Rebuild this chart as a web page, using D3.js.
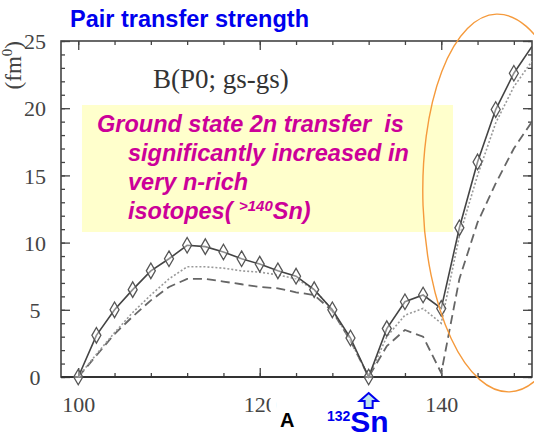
<!DOCTYPE html>
<html>
<head>
<meta charset="utf-8">
<script src="https://cdn.jsdelivr.net/npm/d3@7"></script>
<style>
  body { margin: 0; background: #fff; }
  svg { display: block; }
</style>
</head>
<body>
<div class="canvas"></div>
<script>
/**
 * Data
 */
const massNumbers = d3.range(100, 151, 2) // A = 100 ... 150
const solidValues  = [0, 3.1, 5.0, 6.5, 7.9, 8.8, 9.8, 9.7, 9.3, 8.8, 8.4, 7.9, 7.5, 6.5, 5.0, 2.9, 0, 3.6, 5.6, 6.1, 5.1, 11.1, 16.0, 19.9, 22.6, 24.6]
const dottedValues = [0, 1.7, 3.3, 4.8, 6.1, 7.3, 8.2, 8.2, 8.1, 7.9, 7.8, 7.6, 7.3, 6.5, 5.0, 2.7, 0, 3.0, 4.6, 5.1, 4.0, 10.5, 15.0, 18.9, 21.6, 23.5]
const dashedValues = [0, 1.6, 3.2, 4.5, 5.7, 6.7, 7.3, 7.3, 7.1, 6.9, 6.7, 6.6, 6.3, 6.1, 4.9, 2.7, 0, 2.3, 3.5, 3.0, 0.3, 7.3, 11.5, 14.4, 17.0, 19.0]
const xMajorTicks = [100, 120, 140]
const xMinorTicks = d3.range(100, 150, 4)
const yMajorTicks = [0, 5, 10, 15, 20, 25]
const yMinorTicks = d3.range(0, 26, 1)
const noteLines = ["Ground state 2n transfer  is", "significantly increased in", "very n-rich"]

/**
 * Dimension setup
 */
const dims = { width: 534, height: 437 }
const plot = { left: 61, right: 532, top: 41, bottom: 377 }

const svg = d3.select(".canvas")
    .append("svg")
    .attr("width", dims.width)
    .attr("height", dims.height)

const x = d3.scaleLinear().domain([98.1, 150]).range([plot.left, plot.right])
const y = d3.scaleLinear().domain([0, 25]).range([plot.bottom, plot.top])

const serif = "'Liberation Serif', 'DejaVu Serif', serif"
const sans = "'Liberation Sans', Arial, sans-serif"
const axisColor = "#444"

/**
 * Axes (ticks point inward on all four sides)
 */
const styleAxis = (g) => {
    g.select(".domain").remove()
    g.selectAll("line").attr("stroke", axisColor).attr("stroke-width", 1.3)
}

svg.append("g")
    .attr("transform", `translate(0,${plot.bottom})`)
    .call(d3.axisBottom(x).tickValues(xMinorTicks).tickSize(-4).tickFormat(""))
    .call(styleAxis)

svg.append("g")
    .attr("transform", `translate(0,${plot.bottom})`)
    .call(d3.axisBottom(x).tickValues(xMajorTicks).tickSize(-9))
    .call(styleAxis)
    .call(g => g.selectAll("text")
        .attr("font-family", serif).attr("font-size", 22).attr("fill", axisColor)
        .attr("y", 19))

svg.append("g")
    .attr("transform", `translate(0,${plot.top})`)
    .call(d3.axisTop(x).tickValues(xMinorTicks).tickSize(-4).tickFormat(""))
    .call(styleAxis)

svg.append("g")
    .attr("transform", `translate(0,${plot.top})`)
    .call(d3.axisTop(x).tickValues(xMajorTicks).tickSize(-9).tickFormat(""))
    .call(styleAxis)

svg.append("g")
    .attr("transform", `translate(${plot.left},0)`)
    .call(d3.axisLeft(y).tickValues(yMinorTicks).tickSize(-4).tickFormat(""))
    .call(styleAxis)

svg.append("g")
    .attr("transform", `translate(${plot.left},0)`)
    .call(d3.axisLeft(y).tickValues(yMajorTicks).tickSize(-9))
    .call(styleAxis)
    .call(g => g.selectAll("text")
        .attr("font-family", serif).attr("font-size", 22).attr("fill", axisColor)
        .attr("text-anchor", "middle").attr("x", -26).attr("dy", "0.35em"))

svg.append("g")
    .attr("transform", `translate(${plot.right},0)`)
    .call(d3.axisRight(y).tickValues(yMinorTicks).tickSize(-4).tickFormat(""))
    .call(styleAxis)

svg.append("g")
    .attr("transform", `translate(${plot.right},0)`)
    .call(d3.axisRight(y).tickValues(yMajorTicks).tickSize(-9).tickFormat(""))
    .call(styleAxis)

// frame
svg.append("rect")
    .attr("x", plot.left).attr("y", plot.top)
    .attr("width", plot.right - plot.left).attr("height", plot.bottom - plot.top)
    .attr("fill", "none").attr("stroke", axisColor).attr("stroke-width", 1.6)

svg.append("line")
    .attr("x1", plot.left).attr("x2", plot.right)
    .attr("y1", plot.bottom).attr("y2", plot.bottom)
    .attr("stroke", "#333").attr("stroke-width", 2.2)

// the right side of the "0" in 120 is hidden in the source picture
svg.append("rect")
    .attr("x", x(120) + 11).attr("y", plot.bottom + 14)
    .attr("width", 6).attr("height", 22).attr("fill", "#fff")

// y axis title
svg.append("text")
    .attr("transform", `translate(21,${y(23.2)}) rotate(-90)`)
    .attr("font-family", serif).attr("font-size", 23).attr("fill", axisColor)
    .attr("text-anchor", "middle")
    .html("(fm<tspan dy='-9' font-size='15'>0</tspan><tspan dy='9'>)</tspan>")

/**
 * Note box
 */
svg.append("rect")
    .attr("x", 82).attr("y", 105).attr("width", 371).attr("height", 127)
    .attr("fill", "#ffffcc")

const note = svg.append("g")
    .attr("font-family", sans).attr("font-size", 23.5)
    .attr("font-weight", "bold").attr("font-style", "italic").attr("fill", "#cc0099")
    .style("white-space", "pre")

note.selectAll("text.line")
    .data(noteLines)
    .enter()
    .append("text")
        .attr("class", "line")
        .attr("xml:space", "preserve")
        .attr("x", (d, i) => i === 0 ? 97 : 128)
        .attr("y", (d, i) => 132 + i * 29)
        .text(d => d)

note.append("text")
    .attr("x", 128).attr("y", 219)
    .html("isotopes( <tspan font-size='15' dy='-8'>&gt;140</tspan><tspan dy='8'>Sn)</tspan>")

// panel label
svg.append("text")
    .attr("x", 153).attr("y", 88)
    .attr("font-family", serif).attr("font-size", 27).attr("fill", "#333")
    .text("B(P0; gs-gs)")

/**
 * Curves
 */
const lineGen = (values) => d3.line()
    .x((d, i) => x(massNumbers[i]))
    .y(d => y(d))(values)

svg.append("clipPath").attr("id", "plotClip")
    .append("rect")
    .attr("x", plot.left).attr("y", plot.top)
    .attr("width", plot.right - plot.left).attr("height", plot.bottom - plot.top + 3)

const curves = svg.append("g")
    .attr("clip-path", "url(#plotClip)")

curves.append("path")
    .attr("d", lineGen(dashedValues))
    .attr("fill", "none").attr("stroke", "#666").attr("stroke-width", 1.8)
    .attr("stroke-dasharray", "9,5")

curves.append("path")
    .attr("d", lineGen(dottedValues))
    .attr("fill", "none").attr("stroke", "#999").attr("stroke-width", 1.6)
    .attr("stroke-dasharray", "2,2")

curves.append("path")
    .attr("d", lineGen(solidValues))
    .attr("fill", "none").attr("stroke", "#444").attr("stroke-width", 1.6)

svg.append("g")
    .selectAll("path")
    .data(solidValues.map((v, i) => ({ n: massNumbers[i], v })).filter(d => d.n < 150))
    .enter()
    .append("path")
        .attr("transform", d => `translate(${x(d.n)},${y(d.v)})`)
        .attr("d", d3.symbol().type(d3.symbolDiamond).size(70))
        .attr("fill", "rgba(255,255,255,0.4)")
        .attr("stroke", "#555").attr("stroke-width", 1.3)

/**
 * Title and annotations
 */
svg.append("text")
    .attr("x", 70).attr("y", 27)
    .attr("font-family", sans).attr("font-size", 23.5).attr("font-weight", "bold")
    .attr("fill", "#0000ee")
    .text("Pair transfer strength")

svg.append("ellipse")
    .attr("cx", 503).attr("cy", 203).attr("rx", 80).attr("ry", 189)
    .attr("transform", "rotate(-2,503,203)")
    .attr("fill", "none").attr("stroke", "#f59a3c").attr("stroke-width", 1.4)

svg.append("text")
    .attr("x", 280).attr("y", 427)
    .attr("font-family", sans).attr("font-size", 20).attr("font-weight", "bold")
    .attr("fill", "#000")
    .text("A")

// arrow under 132Sn
const ax = x(132)
svg.append("path")
    .attr("d", `M${ax},${393} L${ax + 9},${401} L${ax + 4},${401} L${ax + 4},${408} L${ax - 4},${408} L${ax - 4},${401} L${ax - 9},${401} Z`)
    .attr("fill", "#bfe3ee").attr("stroke", "#0000ee").attr("stroke-width", 2)

svg.append("text")
    .attr("x", 327).attr("y", 432)
    .attr("font-family", sans).attr("font-weight", "bold").attr("fill", "#0000ee")
    .html("<tspan font-size='14' dy='-11'>132</tspan><tspan font-size='30' dy='11'>Sn</tspan>")
</script>
</body>
</html>
